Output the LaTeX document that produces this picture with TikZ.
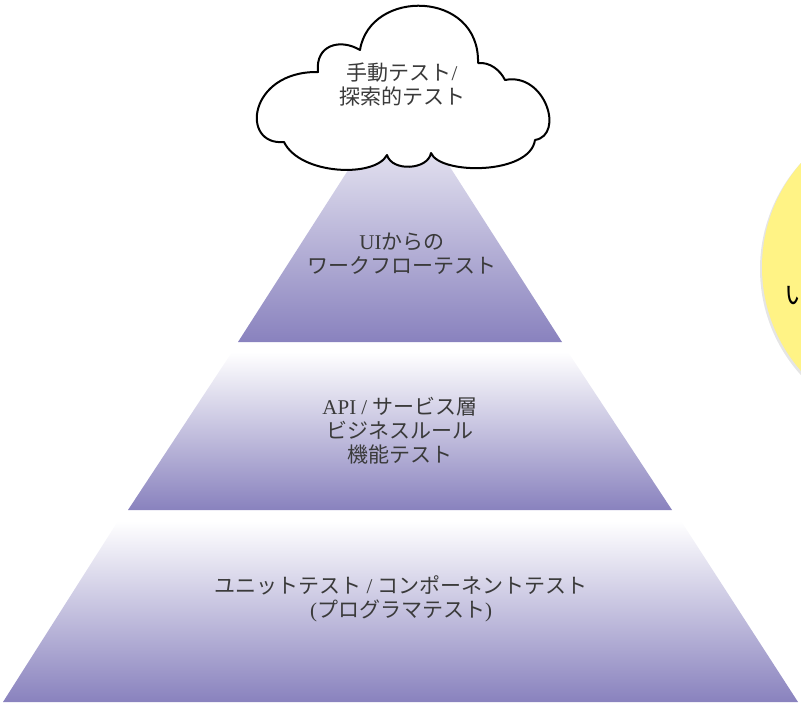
\documentclass[tikz,border=0pt]{standalone}
\usepackage{fontspec}
\setmainfont{Liberation Serif}
\newfontfamily\cjk{Noto Sans CJK JP}
\definecolor{pyr}{RGB}{137,130,190}
\definecolor{txt}{RGB}{58,58,58}
\definecolor{yel}{RGB}{255,243,133}
\begin{document}
\begin{tikzpicture}[x=1pt,y=-1pt,
  lbl/.style={align=center,text=txt,inner sep=0pt,font=\fontsize{21}{24}\selectfont},
  tier/.style={top color=white,bottom color=pyr},
  cloudline/.style={draw=black,fill=white,line width=2pt,line join=round}]
\useasboundingbox (0,0) rectangle (801,709);
\clip (0,0) rectangle (801,709);
% yellow circle (partly outside)
\fill[black!10] (918,269) circle (158pt);
\fill[yel] (920,267) circle (158pt);
\node[anchor=west,inner sep=0pt,font=\fontsize{26}{30}\selectfont] (side) at (784,296) {\cjk い};
% pyramid tiers
\shade[tier] (400,89) -- (562,342) -- (238,342) -- cycle;
\shade[tier] (232,352) -- (568,352) -- (672,510) -- (128,510) -- cycle;
\shade[tier] (118,521) -- (681,521) -- (798,702) -- (3,702) -- cycle;
% cloud
\draw[cloudline] (284,142)
  .. controls (240,146) and (248,71) .. (318,72)
  .. controls (315,45) and (340,38) .. (360,50)
  .. controls (370,-12) and (480,-10) .. (478,63)
  .. controls (490,62) and (500,70) .. (505,80)
  .. controls (545,72) and (565,135) .. (535,140)
  .. controls (530,175) and (440,175) .. (431,153)
  .. controls (428,170) and (392,172) .. (387,155)
  .. controls (375,178) and (300,175) .. (284,142) -- cycle;
% labels
\node[lbl] (manual) at (402,85) {{\cjk 手動テスト}/\\{\cjk 探索的テスト}};
\node[lbl] (ui) at (402,254) {UI{\cjk からの}\\{\cjk ワークフローテスト}};
\node[lbl] (api) at (400,431) {API / {\cjk サービス層}\\{\cjk ビジネスルール}\\{\cjk 機能テスト}};
\node[lbl] (unit) at (401,599) {{\cjk ユニットテスト} / {\cjk コンポーネントテスト}\\({\cjk プログラマテスト})};
\end{tikzpicture}
\end{document}
